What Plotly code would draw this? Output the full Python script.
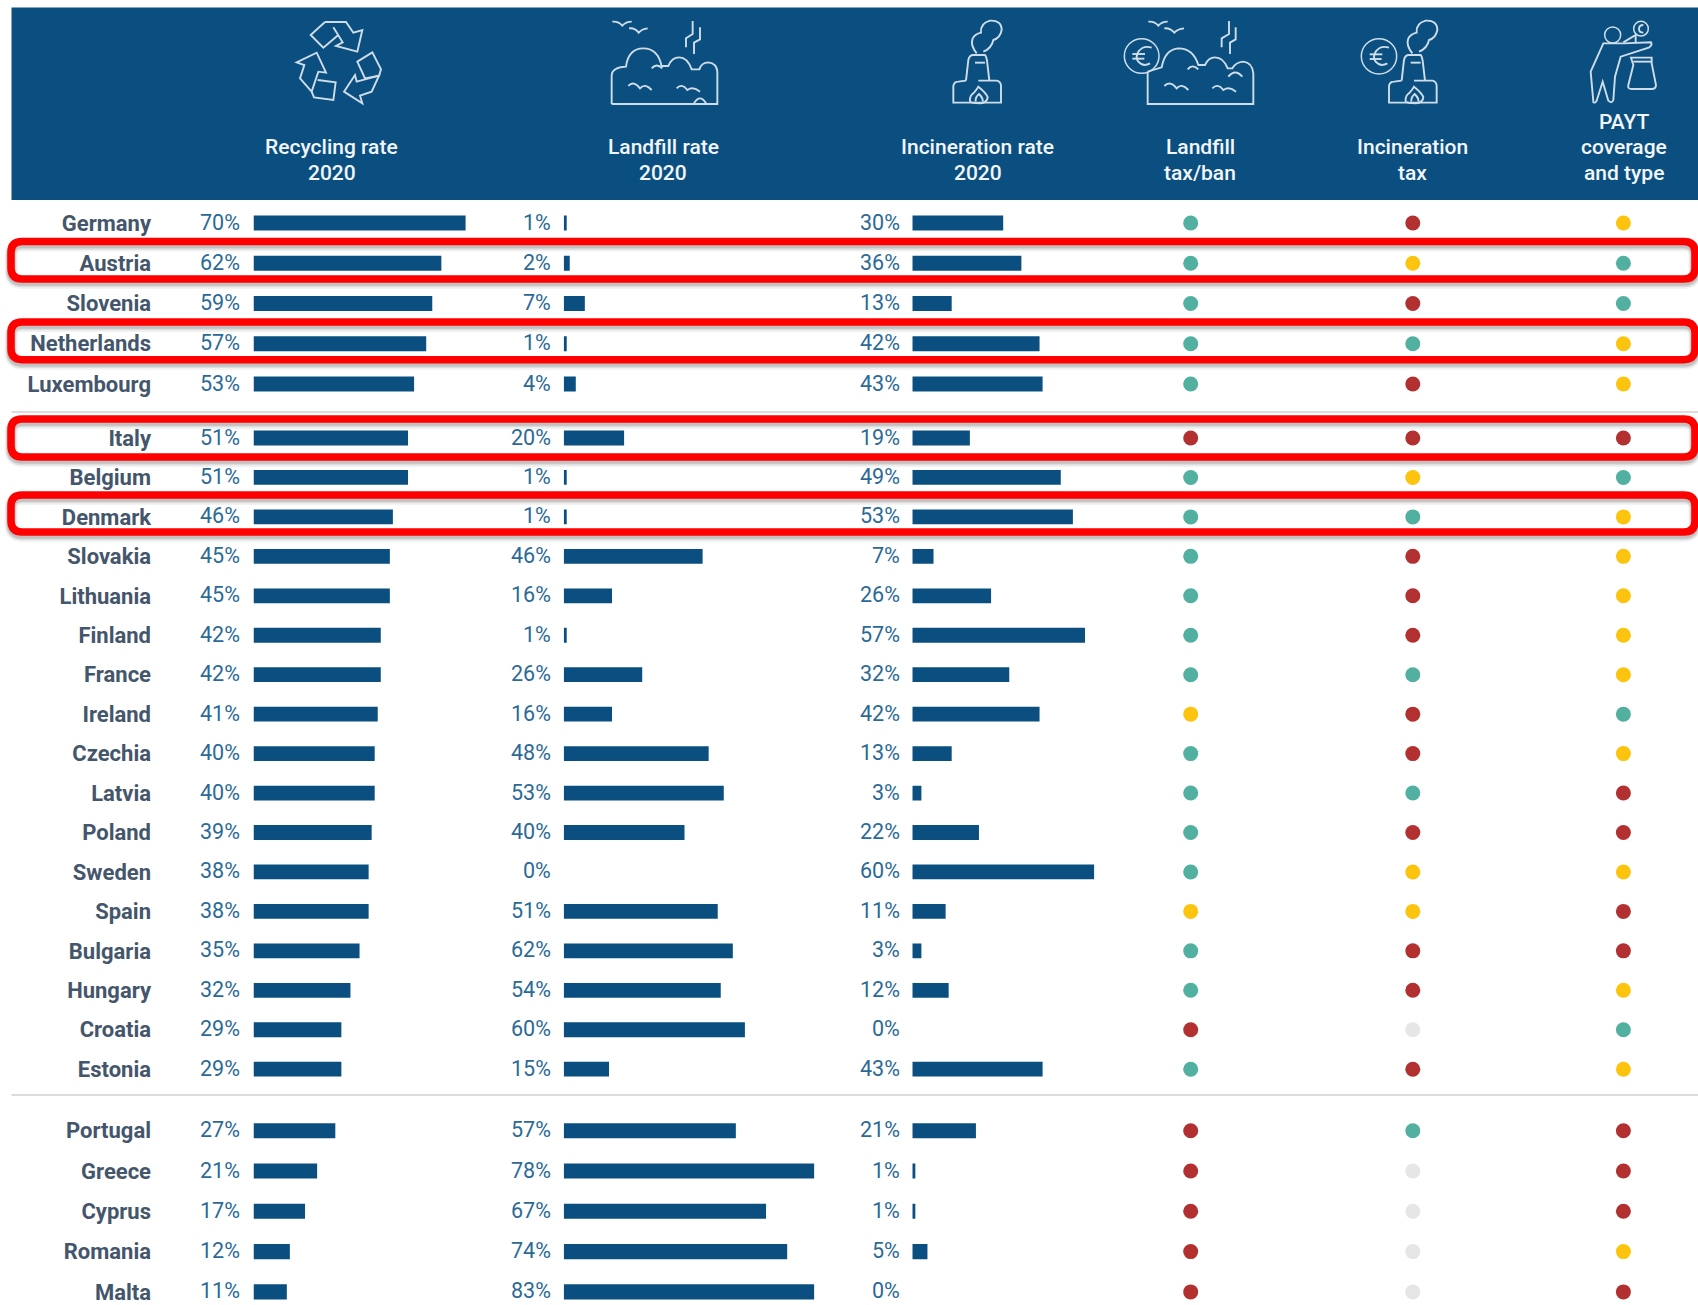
import re
import plotly.graph_objects as go

W, H = 1698, 1305

countries = ["Germany", "Austria", "Slovenia", "Netherlands", "Luxembourg",
             "Italy", "Belgium", "Denmark", "Slovakia", "Lithuania", "Finland", "France",
             "Ireland", "Czechia", "Latvia", "Poland", "Sweden", "Spain", "Bulgaria",
             "Hungary", "Croatia", "Estonia",
             "Portugal", "Greece", "Cyprus", "Romania", "Malta"]
recycling_rate = [70, 62, 59, 57, 53, 51, 51, 46, 45, 45, 42, 42, 41, 40, 40, 39, 38, 38, 35, 32, 29, 29, 27, 21, 17, 12, 11]
landfill_rate = [1, 2, 7, 1, 4, 20, 1, 1, 46, 16, 1, 26, 16, 48, 53, 40, 0, 51, 62, 54, 60, 15, 57, 78, 67, 74, 83]
# Drawn length of the landfill bars (Greece, Bulgaria and Hungary differ from their labels)
landfill_bar = [1, 2, 7, 1, 4, 20, 1, 1, 46, 16, 1, 26, 16, 48, 53, 40, 0, 51, 56, 52, 60, 15, 57, 83, 67, 74, 83]
incineration_rate = [30, 36, 13, 42, 43, 19, 49, 53, 7, 26, 57, 32, 42, 13, 3, 22, 60, 11, 3, 12, 0, 43, 21, 1, 1, 5, 0]
landfill_tax = list("gggggrggggggyggggyggrgrrrrr")
incineration_tax = list("ryrgrrygrrrgrrgryyrrnrgnnnn")
payt = list("yggyyrgyyyyygyrryrrygyrrryr")
group_sizes = [5, 17, 5]

BLUE = "#0b4f80"
STATUS = {"g": "#52b0a0", "r": "#b2302f", "y": "#fdc40f", "n": "#e6e6e6"}
ICON = "#cfdde8"
RED = "#ff0000"

def fx(p): return p / W
def fy(p): return 1 - p / H

def path(d, ox=0, oy=0, k=1.0):
    """Turn a path given in picture pixels into paper coordinates."""
    vals = iter(range(10 ** 6))
    def rep(m):
        v = float(m.group(0))
        i = next(vals)
        return f"{fx(ox + v * k):.5f}" if i % 2 == 0 else f"{fy(oy + v * k):.5f}"
    return re.sub(r"-?\d+\.?\d*", rep, d)

fig = go.Figure()

# --- y axes: one per group of rows
# (first centre px, row spacing px, bottom of band px)
groups = [(223.0, 40.25, 404.0), (438.0, 39.45, 1088.0), (1130.7, 40.3, 1305.0)]
start = 0
ynames = ["y", "y2", "y3"]
layout_axes = {}
for gi, n in enumerate(group_sizes):
    c0, sp, bottom = groups[gi]
    top = c0 - sp / 2
    rows = countries[start:start + n]
    layout_axes["yaxis" + ("" if gi == 0 else str(gi + 1))] = dict(
        type="category", categoryorder="array", categoryarray=rows,
        domain=[fy(bottom), fy(top)],
        range=[(bottom - c0) / sp, -0.5],
        anchor="free", position=fx(151), side="left",
        showgrid=False, zeroline=False, showline=False, ticks="",
        tickfont=dict(family="Roboto", size=22, color="#44566b", weight=700),
        tickmode="array", tickvals=rows, ticktext=rows,
    )
    start += n

# --- x axes: three bar columns, three dot columns
# (left px, px per percentage point, extent)
bar_cols = [("x", recycling_rate, recycling_rate, 253.5, 3.03, 80, 241.5),
            ("x2", landfill_bar, landfill_rate, 563.7, 3.02, 83, 553),
            ("x3", incineration_rate, incineration_rate, 912.3, 3.03, 70, 902)]
for name, bars, labels, left, scale, ext, lab_right in bar_cols:
    layout_axes["xaxis" + name[1:]] = dict(
        domain=[fx(left), fx(left + scale * ext)], range=[0, ext], visible=False,
        anchor="y", fixedrange=True)

dot_cols = [("x4", landfill_tax, 1190.7), ("x5", incineration_tax, 1412.8), ("x6", payt, 1623.4)]
for name, vals, cx in dot_cols:
    layout_axes["xaxis" + name[1:]] = dict(
        domain=[fx(cx - 20), fx(cx + 20)], range=[-1, 1], visible=False,
        anchor="y", fixedrange=True)

annotations = []
start = 0
for gi, n in enumerate(group_sizes):
    idx = range(start, start + n)
    rows = countries[start:start + n]
    for name, bars, labels, left, scale, ext, lab_right in bar_cols:
        fig.add_trace(go.Bar(
            x=[bars[i] for i in idx], y=rows, orientation="h", width=0.375,
            marker=dict(color=BLUE, line=dict(width=0)), xaxis=name, yaxis=ynames[gi],
            showlegend=False))
        for i in idx:
            annotations.append(dict(
                x=0, y=countries[i], xref=name, yref=ynames[gi], text=f"{labels[i]}%",
                showarrow=False, xanchor="right", xshift=lab_right - left, yshift=1,
                font=dict(family="Roboto", size=21.5, color="#2b6a96")))
    for name, vals, cx in dot_cols:
        fig.add_trace(go.Scatter(
            x=[0] * n, y=rows, mode="markers", xaxis=name, yaxis=ynames[gi],
            marker=dict(size=15, color=[STATUS[vals[i]] for i in idx], line=dict(width=0)),
            showlegend=False))
    start += n

# --- header
shapes = [dict(type="rect", xref="paper", yref="paper", x0=fx(11.5), x1=1, y0=fy(200), y1=fy(7.5),
               fillcolor=BLUE, line_width=0, layer="below")]
headers = [(["Recycling rate", "2020"], 331.7), (["Landfill rate", "2020"], 663),
           (["Incineration rate", "2020"], 977.6), (["Landfill", "tax/ban"], 1200),
           (["Incineration", "tax"], 1412), (["PAYT", "coverage", "and type"], 1624)]
header_lines = [173, 147, 122]  # text centres, last line upward
for lines, cx in headers:
    for text, yp in zip(reversed(lines), header_lines):
        annotations.append(dict(
            x=fx(cx), y=fy(yp), xref="paper", yref="paper", text=text, showarrow=False,
            xanchor="center", yanchor="middle", align="center",
            font=dict(family="Roboto", size=21, color="#f2f6f9", weight=500)))

# --- dividers
for yp in (412, 1095):
    shapes.append(dict(type="line", xref="paper", yref="paper", x0=fx(11.5), x1=1, y0=fy(yp), y1=fy(yp),
                       line=dict(color="#cfcfcf", width=1.5)))

# --- icons (traced in 3x crop coordinates)
def icon(ds, ox, oy=10):
    for d in ds:
        shapes.append(dict(type="path", xref="paper", yref="paper", path=path(d, ox, oy, 1 / 3),
                           line=dict(color=ICON, width=1.9), fillcolor="rgba(0,0,0,0)"))

def ring(cx, cy, r, ox, oy=10):
    shapes.append(dict(type="circle", xref="paper", yref="paper",
                       x0=fx(ox + (cx - r) / 3), x1=fx(ox + (cx + r) / 3),
                       y0=fy(oy + (cy + r) / 3), y1=fy(oy + (cy - r) / 3),
                       line=dict(color=ICON, width=1.5), fillcolor="rgba(0,0,0,0)"))

icon(["M165,36 L122,75 L160,113 L205,75",
      "M165,36 L228,36 L250,68 L277,60 L262,125 L198,108 L218,97 L190,52",
      "M80,157 L140,128 L168,188 L145,185 L125,245 L90,205 L103,165 Z",
      "M143,210 L197,217 L190,270 L132,262 L125,245",
      "M262,155 L307,127 L333,178 L327,197 L285,205 Z",
      "M222,245 L255,195 L260,215 L327,197 L305,245 L270,257 L277,280 Z"], 270)

icon(["M35,282 L352,282 L352,185 Q350,160 325,157 Q305,157 298,178 L275,178 Q262,142 238,142 Q215,142 205,168 L185,168",
      "M35,282 L35,195 Q37,172 78,170 Q85,115 130,115 Q175,115 185,170",
      "M37,35 Q55,33 67,47 Q78,35 95,35", "M87,55 Q105,53 116,68 Q125,57 143,55",
      "M278,33 L278,72 L258,85 L258,112", "M300,52 L300,88 L282,98 L282,132",
      "M155,175 Q170,158 187,175", "M85,228 Q100,210 120,235 Q135,218 155,240",
      "M230,235 Q245,218 262,240 Q280,228 300,245", "M282,280 Q300,250 318,280"], 600)

plant = ["M140,130 Q120,105 128,85 Q135,72 153,68 Q150,40 180,32 Q215,30 215,60 Q210,85 190,90 Q185,115 160,125",
         "M108,212 L115,150 Q118,135 130,135 L165,135 Q170,140 172,160 L178,212",
         "M135,158 L165,158",
         "M108,212 L85,215 Q72,215 70,228 L70,278 L213,278 L213,228 Q213,215 200,212 L145,212",
         "M120,275 Q118,258 130,250 Q140,240 145,230 Q170,250 173,262 Q172,278 150,280 Q125,280 120,275",
         "M137,275 Q135,262 147,252 Q160,265 158,275"]
icon(plant, 930)

icon(["M98,185 L98,282 L415,282 L415,190 Q412,158 385,155 Q362,157 352,175 L338,175 Q325,142 300,142 Q280,142 270,165 L250,165 Q235,115 190,115 Q150,118 140,172 L98,185",
      "M100,35 Q118,33 130,47 Q140,35 158,35", "M148,55 Q165,53 178,68 Q188,57 207,55",
      "M342,33 L342,72 L320,85 L320,112", "M362,52 L362,88 L345,98 L345,132",
      "M218,178 Q232,160 250,178", "M340,200 Q360,175 382,200",
      "M148,228 Q165,210 185,235 Q200,218 220,240", "M292,235 Q308,218 325,240 Q343,228 363,245",
      "M110,113 Q85,105 70,125 Q60,140 70,155 Q85,172 105,160", "M52,132 L90,132", "M52,146 L88,146"], 1115)
ring(80, 138, 52, 1115)

icon(plant, 1350 + 47 / 3)
icon(["M117,113 Q92,105 77,125 Q67,140 77,155 Q92,172 112,160", "M59,133 L97,133", "M59,147 L95,147"], 1350)
ring(87, 139, 53, 1350)

icon(["M70,275 L62,185 L100,100 L160,100 L243,97 Q248,105 238,112 L152,140 L135,200 L130,270 Q125,282 115,272 L98,215 L80,272 Q75,282 68,275",
      "M160,97 L197,75 L197,97",
      "M183,143 L245,143 L245,160 L258,225 Q258,237 245,237 L185,237 Q172,237 175,225 L190,165 Z",
      "M190,155 L245,155", "M220,45 Q207,45 207,57 Q207,68 220,68"], 1570)
ring(128, 75, 24, 1570)
ring(213, 56, 22, 1570)

# --- red highlight frames with a soft shadow
def frame(top, bottom, left=11.0, right=1695.0, r=11.0):
    return (f"M{left + r},{top} L{right - r},{top} Q{right},{top} {right},{top + r} "
            f"L{right},{bottom - r} Q{right},{bottom} {right - r},{bottom} "
            f"L{left + r},{bottom} Q{left},{bottom} {left},{bottom - r} "
            f"L{left},{top + r} Q{left},{top} {left + r},{top} Z")

for top, bottom in [(241.5, 279.0), (322.0, 359.7), (419.0, 457.0), (495.0, 532.0)]:
    for width, off, alpha in [(13, 3.5, 0.05), (10.5, 3, 0.09), (8.5, 2.5, 0.12)]:
        shapes.append(dict(type="path", xref="paper", yref="paper",
                           path=path(frame(top + off, bottom + off)),
                           line=dict(color=f"rgba(0,0,0,{alpha})", width=width),
                           fillcolor="rgba(0,0,0,0)"))
    shapes.append(dict(type="path", xref="paper", yref="paper", path=path(frame(top, bottom)),
                       line=dict(color=RED, width=7.5), fillcolor="rgba(0,0,0,0)"))

fig.update_layout(
    width=W, height=H, margin=dict(l=0, r=0, t=0, b=0),
    paper_bgcolor="white", plot_bgcolor="rgba(0,0,0,0)",
    showlegend=False, barmode="overlay", hovermode=False,
    font=dict(family="Roboto"),
    shapes=shapes, annotations=annotations, **layout_axes)

fig.write_html("out.html", config={"displayModeBar": False},
               post_script="document.body.style.margin='0';document.body.style.overflow='hidden';")
